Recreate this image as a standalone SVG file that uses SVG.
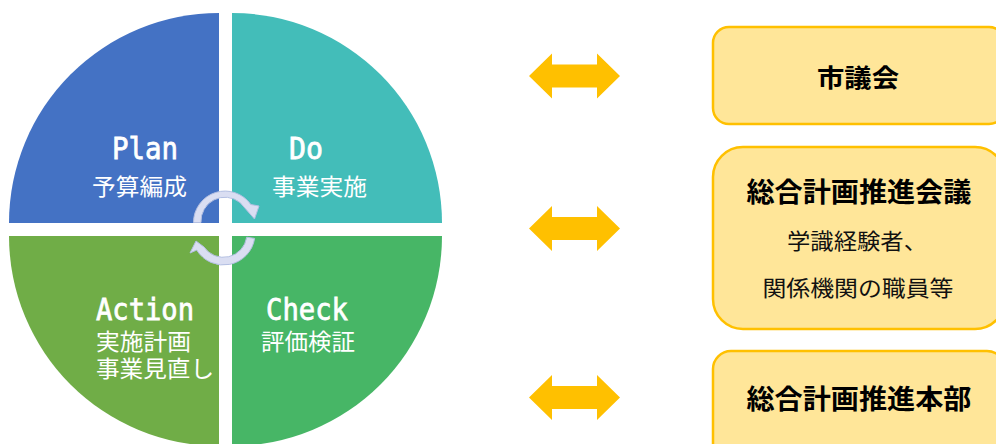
<svg xmlns="http://www.w3.org/2000/svg" xmlns:xlink="http://www.w3.org/1999/xlink" width="996" height="444" viewBox="0 0 996 444">
  <style>
    .lat { font-family: "DejaVu Sans Mono", "Liberation Mono", monospace; font-size: 31px; fill: #ffffff; stroke: #ffffff; stroke-width: 0.8; }
    .jpw { font-family: "Noto Sans CJK JP", "Noto Sans", sans-serif; font-size: 23px; fill: #ffffff; }
    .box { fill: #FFE699; stroke: #FFC000; stroke-width: 2.5; }
    .ttl { font-family: "Noto Sans CJK JP", "Noto Sans", sans-serif; font-weight: 700; fill: #000000; text-anchor: middle; }
    .sub { font-family: "Noto Sans CJK JP", "Noto Sans", sans-serif; font-size: 22px; fill: #111111; text-anchor: middle; }
    .cyc { fill: #DADEF2; stroke: #B3BFE2; stroke-width: 1; }
    .dbl { fill: #FFC000; }
  </style>
  <defs>
    <path id="dblarrow" d="M529,0 L552,-22.5 L552,-11.5 L597,-11.5 L597,-22.5 L620,0 L597,22.5 L597,11.5 L552,11.5 L552,22.5 Z"/>
  </defs>
  <rect x="0" y="0" width="996" height="444" fill="#ffffff"/>

  <g id="plan">
    <path d="M219,223 L9,223 A210,210 0 0 1 219,13 Z" fill="#4472C4"/>
    <text class="lat" x="112" y="159" textLength="66" lengthAdjust="spacingAndGlyphs">Plan</text>
    <text class="jpw" x="92" y="195" textLength="95" lengthAdjust="spacingAndGlyphs">予算編成</text>
  </g>
  <g id="do">
    <path d="M232,223 L232,13 A210,210 0 0 1 442,223 Z" fill="#43BDB9"/>
    <text class="lat" x="289" y="159" textLength="34" lengthAdjust="spacingAndGlyphs">Do</text>
    <text class="jpw" x="272" y="195" textLength="95" lengthAdjust="spacingAndGlyphs">事業実施</text>
  </g>
  <g id="check">
    <path d="M232,236 L442,236 A210,210 0 0 1 232,446 Z" fill="#47B666"/>
    <text class="lat" x="266" y="320" textLength="82" lengthAdjust="spacingAndGlyphs">Check</text>
    <text class="jpw" x="261" y="350" textLength="94" lengthAdjust="spacingAndGlyphs">評価検証</text>
  </g>
  <g id="action">
    <path d="M219,236 L219,446 A210,210 0 0 1 9,236 Z" fill="#70AD47"/>
    <text class="lat" x="96" y="320" textLength="98" lengthAdjust="spacingAndGlyphs">Action</text>
    <text class="jpw" x="96" y="349.5" textLength="95" lengthAdjust="spacingAndGlyphs">実施計画</text>
    <text class="jpw" x="96" y="376.5" textLength="118" lengthAdjust="spacingAndGlyphs">事業見直し</text>
  </g>

  <g id="cycle-arrows">
    <path class="cyc" d="M193.5,222.5 A31.5,31.5 0 0 1 250.8,204.5 L259,206 L254.5,219 L240,202.5 A24,24 0 0 0 201,222.5 Z"/>
    <path class="cyc" d="M254.6,238.4 A31.5,31.5 0 0 1 196.7,250.1 L190,253 L196,241 L204,247 A23.5,23.5 0 0 0 246.7,237.2 Z"/>
  </g>

  <g id="shigikai">
    <rect class="box" x="713" y="27" width="292" height="97" rx="16" ry="16"/>
    <text class="ttl" x="858" y="86.5" font-size="25" textLength="82" lengthAdjust="spacingAndGlyphs">市議会</text>
  </g>
  <g id="suishin-kaigi">
    <rect class="box" x="713" y="147" width="292" height="182" rx="30" ry="30"/>
    <text class="ttl" x="859" y="202" font-size="27" textLength="225" lengthAdjust="spacingAndGlyphs">総合計画推進会議</text>
    <text class="sub" x="857" y="248.5" textLength="140" lengthAdjust="spacingAndGlyphs">学識経験者、</text>
    <text class="sub" x="858" y="295.5" textLength="191" lengthAdjust="spacingAndGlyphs">関係機関の職員等</text>
  </g>
  <g id="suishin-honbu">
    <rect class="box" x="713" y="351" width="292" height="120" rx="18" ry="18"/>
    <text class="ttl" x="859" y="409" font-size="27" textLength="225" lengthAdjust="spacingAndGlyphs">総合計画推進本部</text>
  </g>

  <g id="connectors">
    <use class="dbl" href="#dblarrow" xlink:href="#dblarrow" transform="translate(0,76)"/>
    <use class="dbl" href="#dblarrow" xlink:href="#dblarrow" transform="translate(0,228.5)"/>
    <use class="dbl" href="#dblarrow" xlink:href="#dblarrow" transform="translate(0,397.5)"/>
  </g>
</svg>
